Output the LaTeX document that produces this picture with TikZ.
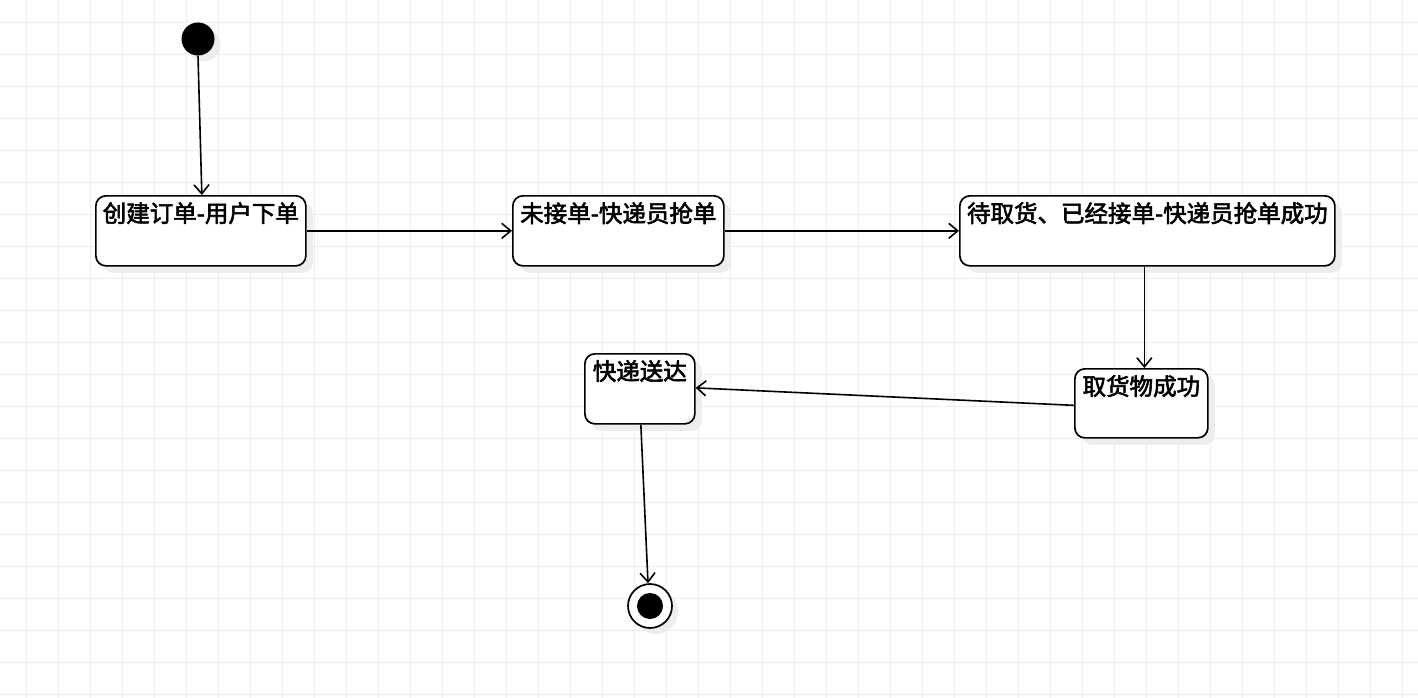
\documentclass[tikz,border=0pt]{standalone}
\usepackage{fontspec}
\setmainfont{Noto Sans CJK SC}[FakeBold=2.5]
\usetikzlibrary{arrows.meta,shadows}
\begin{document}
\begin{tikzpicture}[x=1pt,y=-1pt,
  box/.style={draw=black,line width=1.7pt,rounded corners=10pt,fill=white,
    drop shadow={shadow xshift=7pt,shadow yshift=-7pt,fill=black!7,opacity=1},
    minimum height=70pt,anchor=north west,inner sep=0pt},
  lbl/.style={font=\fontsize{23.5}{26}\selectfont,anchor=north,inner sep=0pt},
  arr/.style={line width=1.6pt,-{Straight Barb[length=9pt,width=15pt,line width=1.6pt]}}]
\useasboundingbox (0,0) rectangle (1418,698);
\fill[white] (0,0) rectangle (1418,698);
\foreach \x in {26,58,...,1418} \draw[black!7,line width=0.8pt] (\x,0) -- (\x,698);
\foreach \y in {22,54,...,698} \draw[black!7,line width=0.8pt] (0,\y) -- (1418,\y);
\node[circle,fill=black,minimum size=33pt,inner sep=0pt,
  drop shadow={shadow xshift=6pt,shadow yshift=-6pt,fill=black!7,opacity=1}] (s) at (198,39) {};
\node[box,minimum width=210pt] (b1) at (95,195) {};
\node[lbl] at ([yshift=-7pt]b1.north) {创建订单-用户下单};
\node[box,minimum width=211pt] (b2) at (512,195) {};
\node[lbl] at ([yshift=-7pt]b2.north) {未接单-快递员抢单};
\node[box,minimum width=375pt] (b3) at (959,195) {};
\node[lbl] at ([yshift=-7pt]b3.north) {待取货、已经接单-快递员抢单成功};
\node[box,minimum width=133pt,minimum height=69pt] (b4) at (1074,368) {};
\node[lbl] at ([yshift=-7pt]b4.north) {取货物成功};
\node[box,minimum width=110pt] (b5) at (584,353) {};
\node[lbl] at ([yshift=-7pt]b5.north) {快递送达};
\node[circle,draw=black,line width=1.7pt,fill=white,minimum size=44pt,inner sep=0pt,
  drop shadow={shadow xshift=6pt,shadow yshift=-6pt,fill=black!7,opacity=1}] (e) at (650,606) {};
\node[circle,fill=black,minimum size=26pt,inner sep=0pt] (ei) at (650,606) {};
\draw[arr] (s.south) -- ([xshift=1pt]b1.north);
\draw[arr] (b1.east) -- (b2.west);
\draw[arr] (b2.east) -- (b3.west);
\draw[arr] ([xshift=-3pt]b3.south) -- ([xshift=3pt]b4.north);
\draw[arr] ([yshift=-2pt]b4.west) -- ([yshift=1pt]b5.east);
\draw[arr] ([xshift=1pt]b5.south) -- ([xshift=-2pt]e.north);
\end{tikzpicture}
\end{document}
